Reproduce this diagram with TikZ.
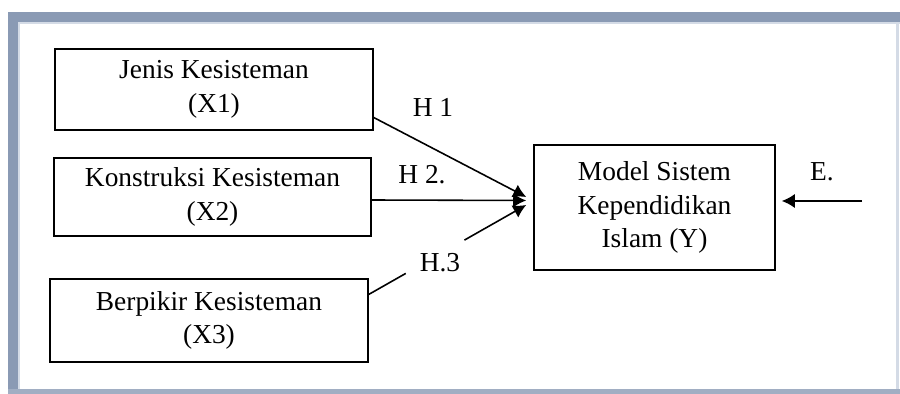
\documentclass[tikz,border=0pt]{standalone}
\usepackage{fontspec}
\setmainfont{Liberation Serif}
\usetikzlibrary{arrows.meta,calc}

\definecolor{framebar}{HTML}{8A9AB4}
\definecolor{frameline}{HTML}{D4DBE6}

\begin{document}
\begin{tikzpicture}[x=0.02cm,y=-0.02cm,
		var/.style={draw,line width=0.9pt,align=center,inner sep=0pt,
			font=\fontsize{15.6}{19.2}\selectfont},
		hyp/.style={font=\fontsize{15.6}{19.2}\selectfont},
		arr/.style={line width=0.9pt,-{Latex[length=0.26cm,width=0.28cm]}}]
			\useasboundingbox (0,0) rectangle (900,394);
			% window frame
			\fill[white] (0,0) rectangle (900,394);
			\fill[framebar] (8,12) rectangle (900,22);
			\fill[framebar] (8,12) rectangle (18,394);
			\fill[framebar!80] (8,389) rectangle (900,394);
			\fill[frameline] (18,22) rectangle (900,24);
			\fill[frameline] (18,22) rectangle (20,389);
			\fill[frameline] (896,22) rectangle (899,389);
			% variables
			\node[var,minimum width=6.36cm,minimum height=1.62cm] (X1) at (214,89.5) {Jenis Kesisteman\\(X1)};
			\node[var,minimum width=6.34cm,minimum height=1.56cm] (X2) at (212.5,197) {Konstruksi Kesisteman\\(X2)};
			\node[var,minimum width=6.36cm,minimum height=1.66cm] (X3) at (209,320.5) {Berpikir Kesisteman\\(X3)};
			\node[var,minimum width=4.82cm,minimum height=2.5cm] (Y) at (654.5,207.5) {Model Sistem\\Kependidikan\\Islam (Y)};
			% hypotheses
			\node[hyp] (H1) at (433,107) {H 1};
			\node[hyp] (H2) at (422,175) {H 2.};
			\node[hyp] (H3) at (440,263) {H.3};
			\node[hyp] (E) at (822,172) {E.};
			\coordinate (e0) at (862,201);
			\coordinate (h3a) at ($(X3.east)+(-1,-25.5)$);
			\coordinate (h3b) at ($(Y.west)+(-7,-2.5)$);
			\draw[arr] ($(X1.east)+(-1,27.5)$) -- ($(Y.west)+(-7,-10.5)$);
			\draw[arr] ($(X2.east)+(-1,3)$) -- ($(Y.west)+(-7,-7)$);
			\draw[arr] (h3a) -- ($(h3a)!.24!(h3b)$) ($(h3a)!.61!(h3b)$) -- (h3b);
			\draw[arr] (e0) -- ($(Y.east)+(6,-6.5)$);
		\end{tikzpicture}
\end{document}
